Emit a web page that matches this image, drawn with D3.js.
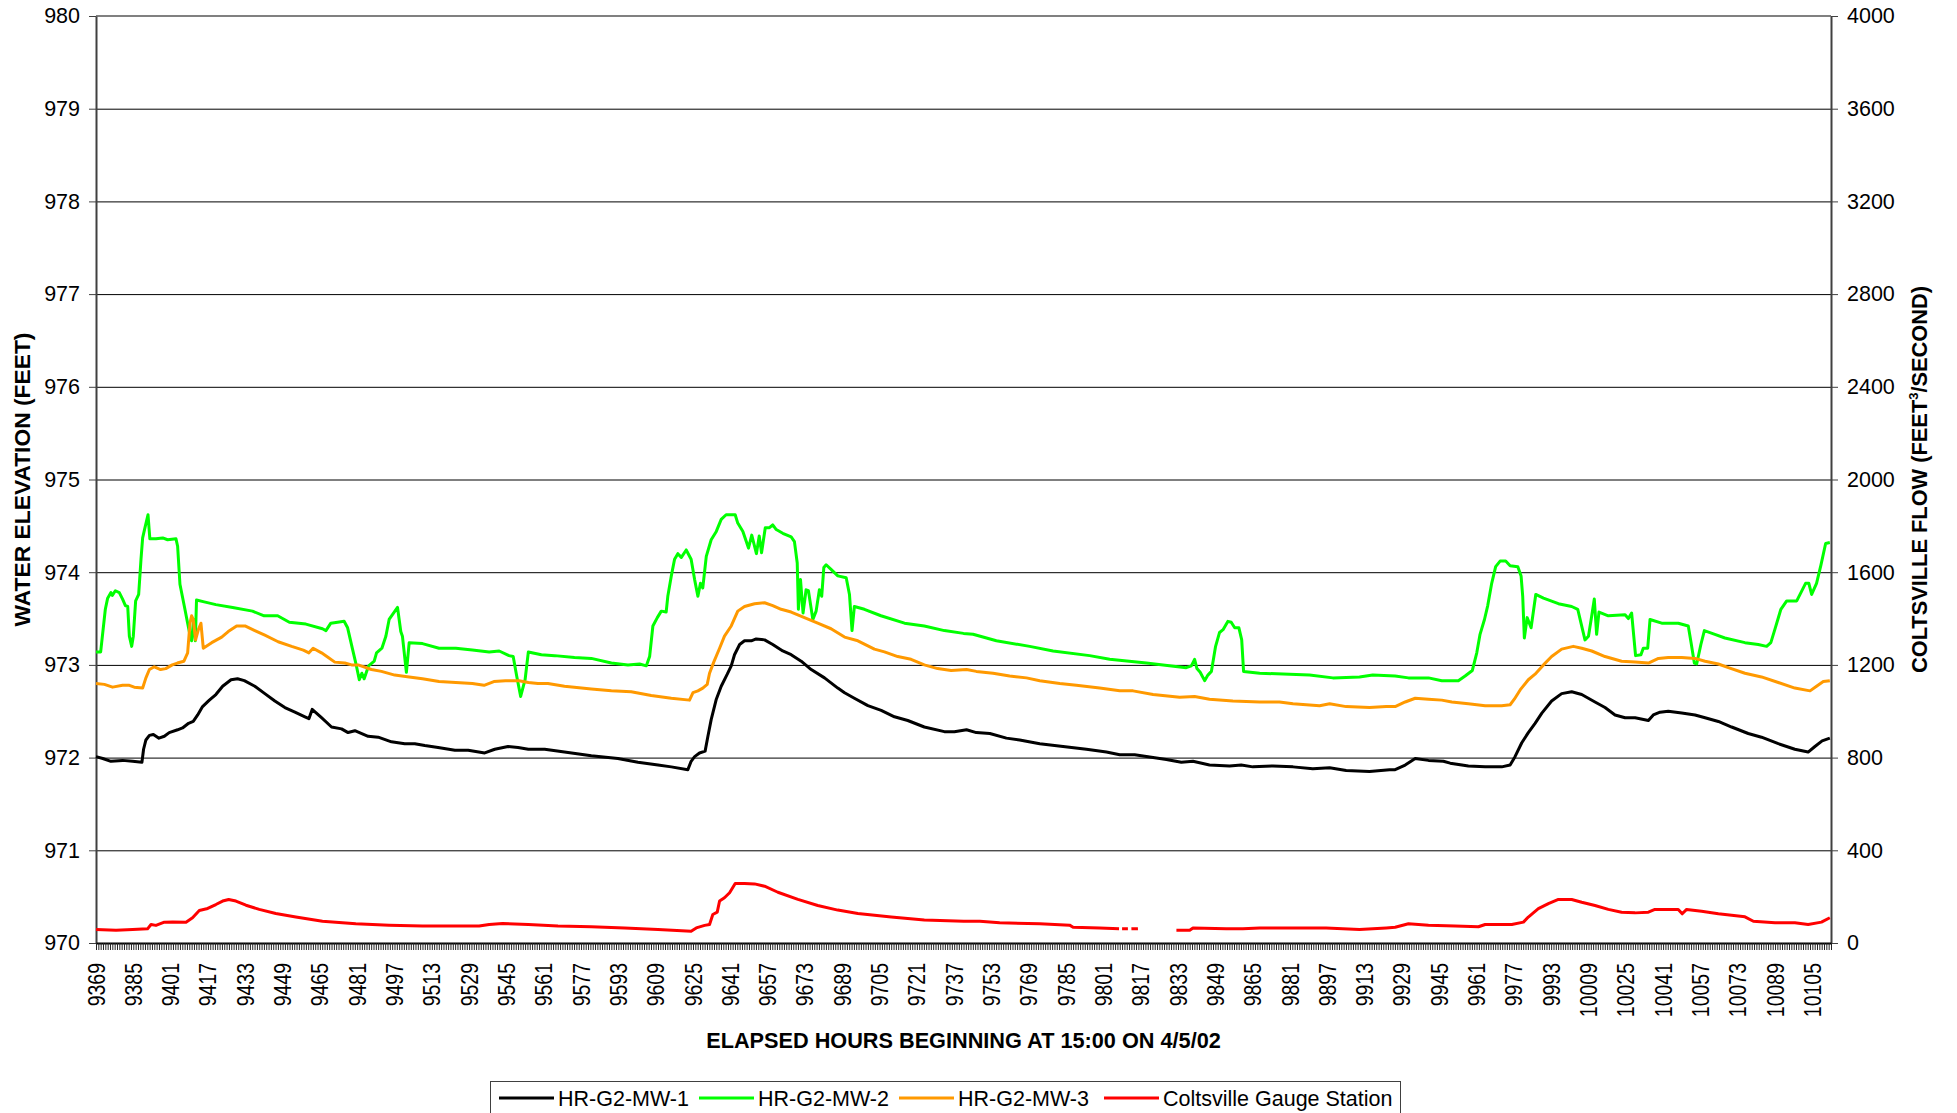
<!DOCTYPE html>
<html>
<head>
<meta charset="utf-8">
<script src="https://cdn.jsdelivr.net/npm/d3@7"></script>
<style>
  body { margin: 0; background: #fff; }
  svg { display: block; font-family: Arial, "Liberation Sans", sans-serif; }
</style>
</head>
<body>
<svg id="chart" width="1957" height="1113"></svg>
<script>
// Readings taken off the chart: [elapsed hour, value]
const mw1 = [[9369,972.01],[9371.9,971.99],[9375.4,971.96],[9380.4,971.97],[9384.7,971.96],[9388.7,971.95],[9389.4,972.09],[9390.4,972.19],[9391.9,972.24],[9393.6,972.25],[9396,972.21],[9398.3,972.23],[9400.4,972.27],[9404,972.30],[9406.1,972.32],[9408.7,972.37],[9410.7,972.39],[9412.6,972.46],[9414.7,972.55],[9417.6,972.62],[9420.4,972.68],[9423.3,972.77],[9426.9,972.84],[9429.7,972.85],[9432.6,972.83],[9437.1,972.77],[9441.4,972.69],[9445.7,972.61],[9450,972.54],[9454.3,972.49],[9458.6,972.44],[9460.3,972.42],[9461.7,972.52],[9465.7,972.43],[9470,972.33],[9474.3,972.31],[9477.1,972.27],[9480,972.29],[9485.7,972.23],[9490,972.22],[9495.7,972.17],[9501.4,972.15],[9505.7,972.15],[9510,972.13],[9515.7,972.11],[9522.9,972.08],[9528.6,972.08],[9535.7,972.05],[9540,972.09],[9545.7,972.12],[9550,972.11],[9554.4,972.09],
  [9561.4,972.09],[9569.9,972.06],[9581.4,972.02],[9592.8,971.99],[9601.4,971.95],[9610,971.92],[9615.7,971.90],[9622.8,971.87],[9624.2,971.96],[9625.7,972.01],[9627.8,972.05],[9630.2,972.07],[9631.4,972.23],[9632.8,972.41],[9635,972.63],[9637.1,972.77],[9639.7,972.90],[9641.4,972.99],[9642.8,973.11],[9645,973.22],[9647.1,973.26],[9650,973.26],[9652.1,973.28],[9655.7,973.27],[9659.2,973.22],[9663.5,973.15],[9667.1,973.11],[9671.4,973.04],[9675.7,972.95],[9681.4,972.86],[9687.1,972.75],[9690,972.70],[9694.2,972.64],[9700,972.56],[9705.7,972.51],[9711.4,972.44],[9717.1,972.40],[9724.2,972.33],[9732.8,972.28],[9737.1,972.28],
  [9742.3,972.30],[9746.5,972.27],[9752.3,972.26],[9759.4,972.21],[9765.1,972.19],[9773.7,972.15],[9783.7,972.12],[9793.7,972.09],[9802.3,972.06],[9808,972.03],[9814.4,972.03],[9822.3,972.00],[9828,971.98],[9834.4,971.95],[9839.4,971.96],[9846.5,971.92],[9855.1,971.91],[9860.1,971.92],[9865.1,971.90],[9873.7,971.91],[9882.3,971.90],[9890.8,971.88],[9898,971.89],[9905.1,971.86],[9915.1,971.85],[9923.7,971.87],
  [9926.1,971.87],[9930.4,971.92],[9934.7,971.99],[9940.4,971.97],[9946.8,971.96],[9949.7,971.94],[9957.5,971.91],[9964.7,971.90],[9971.8,971.90],[9975.4,971.92],[9977.5,972.01],[9980.4,972.16],[9983.2,972.27],[9986.1,972.37],[9989,972.48],[9993.2,972.61],[9997.5,972.69],[10001.8,972.71],[10006.1,972.68],[10011.8,972.60],[10016.1,972.54],[10020.4,972.46],[10024.7,972.43],[10029,972.43],[10034.7,972.40],[10036.8,972.46],[10039.7,972.49],[10043.2,972.50],[10049,972.48],[10054.7,972.46],[10059,972.43],[10064.7,972.39],[10070.4,972.33],[10077.5,972.26],[10083.2,972.22],[10090.4,972.15],[10097.5,972.09],[10103.2,972.06],[10106.1,972.12],[10109.2,972.18],[10112.5,972.21]];

const mw2 = [[9369,973.14],[9371,973.14],[9373,973.60],[9374,973.72],[9375.4,973.78],[9376,973.75],[9377.3,973.80],[9379,973.78],[9380.4,973.71],[9381.6,973.64],[9382.6,973.63],[9383.3,973.31],[9384.3,973.20],[9385,973.31],[9386,973.69],[9387.3,973.76],[9388.3,974.14],[9389,974.37],[9390,974.48],[9391.3,974.62],[9392.1,974.36],[9394.7,974.36],[9397.6,974.37],[9399.7,974.35],[9403.3,974.36],[9404,974.28],[9405,973.87],[9406.9,973.63],[9408.3,973.45],[9409.4,973.31],[9410,973.26],[9410.9,973.49],[9411.6,973.26],[9412.1,973.70],[9415.4,973.68],[9420.4,973.65],[9427.6,973.62],[9436.1,973.58],[9441.1,973.53],[9446.9,973.53],[9451.9,973.46],[9459,973.44],[9466.1,973.39],[9467.6,973.37],[9469.7,973.45],[9472.6,973.46],[9475.4,973.47],[9476.9,973.40],[9479,973.17],[9480.4,973.02],[9481.9,972.84],[9483,972.91],[9484,972.85],[9485.9,972.99],[9488.3,973.04],[9489.3,973.13],[9491.6,973.18],[9493.3,973.31],[9494.7,973.49],[9498.3,973.62],[9499.7,973.36],[9500.4,973.31],[9502.1,972.92],[9503.3,973.24],[9509,973.23],[9516.1,973.18],[9523.3,973.18],[9530.4,973.16],[9537.6,973.14],[9541.9,973.15],[9546.1,973.10],[9547.9,973.09],[9549.4,972.88],[9551.1,972.66],[9553,972.84],[9554.4,973.14],
  [9560,973.11],[9565.7,973.10],[9574.2,973.08],[9581.4,973.07],[9590,973.02],[9597.1,973.00],[9602.1,973.01],[9605,972.99],[9606.4,973.09],[9607.8,973.42],[9609.7,973.51],[9611.4,973.58],[9613.5,973.57],[9614.2,973.74],[9615.7,973.96],[9617.1,974.14],[9618.5,974.20],[9620,974.16],[9622.1,974.24],[9624.2,974.14],[9625.7,973.92],[9627.1,973.74],[9628.2,973.88],[9629.2,973.83],[9630.7,974.17],[9632.8,974.35],[9635,974.44],[9637.1,974.57],[9639.2,974.62],[9643.1,974.62],[9644.2,974.53],[9646.4,974.44],[9648.8,974.26],[9650.2,974.40],[9652.2,974.20],[9653.4,974.39],[9654.4,974.21],[9656,974.48],[9657.8,974.48],[9659.2,974.51],[9660.7,974.46],[9663.5,974.42],[9667.1,974.38],[9668.5,974.33],[9669.7,974.10],[9670.2,973.60],[9671.1,973.92],[9672.2,973.56],[9673.5,973.81],[9674.5,973.80],[9676.4,973.49],[9677.8,973.58],[9679.2,973.81],[9680.2,973.74],[9681.1,974.05],[9682.1,974.08],[9684.2,974.03],[9687.1,973.96],[9690.7,973.94],[9692.1,973.76],[9693.2,973.37],[9694.2,973.63],[9698.5,973.60],[9705.6,973.53],[9715.7,973.45],[9724.2,973.42],[9732.8,973.37],
  [9741,973.34],[9745.1,973.33],[9755.1,973.26],[9769.4,973.20],[9779.4,973.15],[9795.1,973.10],[9803.7,973.06],[9819.4,973.02],[9836.5,972.97],[9838.7,972.99],[9840.1,973.06],[9841.1,972.96],[9842.5,972.92],[9844.4,972.83],[9845.8,972.89],[9847.3,972.93],[9849.1,973.20],[9850.8,973.35],[9852.3,973.38],[9854.4,973.47],[9855.8,973.46],[9857.3,973.40],[9859.1,973.40],[9860.3,973.27],[9861.1,972.93],[9868,972.91],[9880.8,972.90],[9889.4,972.89],[9899.4,972.86],[9910.8,972.87],[9916.5,972.89],
  [9926.1,972.88],[9931.8,972.86],[9940.4,972.86],[9946.1,972.83],[9953.2,972.83],[9956.1,972.88],[9959.2,972.94],[9961.1,973.13],[9962.5,973.33],[9964.4,973.49],[9965.8,973.64],[9967.5,973.88],[9969.2,974.06],[9971.1,974.12],[9973.5,974.12],[9975.4,974.07],[9978.7,974.06],[9980.1,973.96],[9980.8,973.74],[9981.5,973.29],[9982.7,973.51],[9984.4,973.40],[9986.4,973.76],[9989.7,973.72],[9996.1,973.66],[10001.8,973.63],[10004.4,973.60],[10005.8,973.45],[10007.5,973.27],[10009,973.31],[10010.4,973.53],[10011.5,973.71],[10012.5,973.33],[10013.5,973.57],[10017.5,973.53],[10024.7,973.54],[10026.1,973.50],[10027.5,973.56],[10029.2,973.10],[10031.5,973.11],[10032.5,973.18],[10034.4,973.18],[10035.4,973.49],[10040.4,973.45],[10047.5,973.45],[10051.8,973.42],[10053,973.24],[10054.4,973.02],[10055.4,973.01],[10057.2,973.22],[10058.7,973.37],[10063.2,973.33],[10067.5,973.29],[10076.1,973.24],[10081.8,973.22],[10085.4,973.20],[10087.2,973.24],[10088.9,973.38],[10091.5,973.60],[10094,973.69],[10098.3,973.69],[10100.1,973.78],[10102.1,973.88],[10103.5,973.88],[10104.7,973.76],[10106.8,973.88],[10108.7,974.08],[10110.7,974.31],[10112.5,974.32]];

const mw3 = [[9369,972.80],[9372.6,972.79],[9376.1,972.76],[9380.4,972.78],[9383.3,972.78],[9385.4,972.76],[9389,972.75],[9390.4,972.86],[9391.9,972.95],[9394,972.98],[9396.7,972.95],[9398.9,972.96],[9401.7,973.00],[9403.9,973.02],[9406.7,973.04],[9408.3,973.13],[9409.3,973.45],[9410,973.53],[9410.7,973.49],[9411.7,973.27],[9412.9,973.38],[9414,973.45],[9415,973.18],[9418.6,973.24],[9422.9,973.30],[9425.7,973.36],[9429.3,973.42],[9432.9,973.42],[9437.1,973.37],[9441.4,973.32],[9447.1,973.25],[9452.9,973.20],[9457.9,973.16],[9460.3,973.13],[9462.1,973.18],[9465.7,973.13],[9468.6,973.08],[9471.4,973.03],[9475.7,973.02],[9478.6,973.00],[9481.4,973.00],[9487.1,972.95],[9491.4,972.93],[9497.1,972.89],[9503.3,972.87],[9509,972.85],[9516.1,972.82],[9523.3,972.81],[9530.4,972.80],[9535.4,972.78],[9539.6,972.82],[9544.6,972.83],[9550.4,972.83],[9554.4,972.81],
  [9558.5,972.80],[9562.8,972.80],[9569.9,972.77],[9581.4,972.74],[9590,972.72],[9598.5,972.71],[9607.1,972.67],[9615.7,972.64],[9623.5,972.62],[9625,972.70],[9627.1,972.72],[9629.2,972.75],[9631.1,972.79],[9632.1,972.91],[9633.9,973.03],[9636.4,973.18],[9638.5,973.31],[9641.4,973.42],[9644.2,973.58],[9647.1,973.63],[9651.4,973.66],[9655.7,973.67],[9659.2,973.64],[9662.8,973.60],[9667.1,973.57],[9672.8,973.51],[9678.5,973.45],[9684.2,973.39],[9690,973.30],[9695.7,973.26],[9702.8,973.17],[9707.1,973.14],[9712.8,973.09],[9718.5,973.06],[9724.2,973.00],[9729.9,972.96],[9735.7,972.94],
  [9742.3,972.95],[9746.5,972.93],[9753.7,972.91],[9760.8,972.88],[9768,972.86],[9773.7,972.83],[9782.3,972.80],[9789.4,972.78],[9799.4,972.75],[9808,972.72],[9813.7,972.72],[9822.3,972.68],[9833.7,972.65],[9840.1,972.66],[9846.5,972.63],[9856.5,972.61],[9868,972.60],[9876.5,972.60],[9882.3,972.58],[9893.7,972.56],[9898,972.58],[9905.1,972.55],[9915.1,972.54],[9922.3,972.55],
  [9926.1,972.55],[9930.4,972.60],[9934.7,972.64],[9940.4,972.63],[9946.1,972.62],[9950.4,972.60],[9957.5,972.58],[9964.7,972.56],[9971.8,972.56],[9975.4,972.57],[9977.2,972.63],[9979.7,972.73],[9983.2,972.84],[9986.1,972.90],[9989.7,973.00],[9993.2,973.09],[9997.5,973.17],[10002.5,973.20],[10006.1,973.18],[10010.4,973.15],[10016.1,973.09],[10023.2,973.04],[10029,973.03],[10034.7,973.02],[10039,973.07],[10043.2,973.08],[10049,973.08],[10054.7,973.07],[10059,973.04],[10064.7,973.01],[10069,972.97],[10076.1,972.91],[10083.2,972.87],[10090.4,972.81],[10097.5,972.75],[10104,972.72],[10106.8,972.77],[10109.7,972.82],[10112.5,972.83]];

// Coltsville gauge flow (ft3/s), null = no reading
const flow = [[9369,58],[9377.6,55],[9384.7,58],[9391.1,61],[9392.6,80],[9394.7,76],[9398.3,90],[9401.9,91],[9407.6,90],[9410.4,109],[9413.3,140],[9416.9,149],[9420.4,166],[9423.3,181],[9425.9,188],[9429,181],[9433.3,163],[9439,145],[9446.1,127],[9454.7,112],[9466.1,94],[9480.4,83],[9494.7,77],[9509,73],[9523.3,73],[9533.3,73],[9537.6,80],[9543.3,84],[9554.4,80],[9567.1,73],[9581.4,70],[9595.7,65],[9610,58],[9624.2,51],[9626.4,65],[9630,76],[9632.1,80],[9633.5,123],[9635.4,133],[9636.4,181],[9638.5,195],[9640.7,217],[9643.1,257],[9647.1,257],[9651.4,255],[9655.7,245],[9661.4,219],[9670,188],[9678.5,162],[9687.1,142],[9695.7,127],[9710,112],[9724.2,99],[9741.1,94],[9748,94],[9756.5,87],[9773.7,83],[9786.5,77],[9788,68],[9799.4,65],[9807.7,61],[9808.3,null],[9809,61],[9811.5,61],[9812.2,null],[9813,61],[9815.8,62],[9816.5,null],[9832.3,55],[9838,55],[9839.4,65],[9853.7,61],[9860.8,61],[9868,65],[9882.3,65],[9896.5,65],[9910.8,58],[9922.3,65],[9926.1,68],[9931.8,83],[9940.4,77],[9951.8,73],[9961.8,70],[9964.7,80],[9976.1,80],[9981.1,90],[9983.2,112],[9987.5,148],[9991.8,170],[9996.1,188],[10001.8,188],[10006.1,176],[10011.8,162],[10017.5,145],[10023.2,133],[10029,130],[10034.7,133],[10037.5,145],[10047.5,145],[10049.2,126],[10051.1,145],[10057.5,137],[10064.7,126],[10076.1,113],[10079.7,94],[10089,87],[10097.5,87],[10103.2,80],[10108.9,90],[10112.5,109]];

const elevTicks = d3.range(970, 981, 1);
const flowTicks = d3.range(0, 4001, 400);
const hourLabels = d3.range(9369, 10106, 16);
const hourTicks = d3.range(9369, 10114, 1);
const legendNames = ["HR-G2-MW-1", "HR-G2-MW-2", "HR-G2-MW-3", "Coltsville Gauge Station"];
const legendColors = ["#000000", "#00ff00", "#ff9900", "#ff0000"];

const plotLeft = 96, plotRight = 1831, plotTop = 16, plotBottom = 943;
const fontFamily = "Arial, 'Liberation Sans', sans-serif";
const svg = d3.select("#chart");

const x = d3.scaleLinear().domain([9369, 10113]).range([plotLeft, plotRight]);
const y = d3.scaleLinear().domain([970, 980]).range([plotBottom, plotTop]);
const yR = d3.scaleLinear().domain([0, 4000]).range([plotBottom, plotTop]);

svg.append("rect").attr("width", 1957).attr("height", 1113).attr("fill", "#fff");

// gridlines
svg.append("g")
  .attr("transform", `translate(${plotLeft},0)`)
  .call(d3.axisLeft(y).tickValues(elevTicks.slice(1, -1)).tickSize(-(plotRight - plotLeft)).tickFormat(""))
  .call(g => g.select(".domain").remove())
  .call(g => g.selectAll("line").attr("stroke", "#000").attr("stroke-width", 1));

// top border
svg.append("line").attr("x1", plotLeft).attr("x2", plotRight).attr("y1", plotTop).attr("y2", plotTop)
  .attr("stroke", "#808080").attr("stroke-width", 2);

// left axis
svg.append("g")
  .attr("transform", `translate(${plotLeft},0)`)
  .call(d3.axisLeft(y).tickValues(elevTicks).tickSize(7).tickPadding(9).tickSizeOuter(0))
  .call(g => g.select(".domain").attr("stroke", "#404040").attr("stroke-width", 2))
  .call(g => g.selectAll("line").attr("stroke", "#404040"))
  .call(g => g.selectAll("text").attr("font-size", 21.5).attr("fill", "#000").attr("font-family", fontFamily));

// right axis
svg.append("g")
  .attr("transform", `translate(${plotRight},0)`)
  .call(d3.axisRight(yR).tickValues(flowTicks).tickSize(7).tickPadding(9).tickSizeOuter(0).tickFormat(d3.format("d")))
  .call(g => g.select(".domain").attr("stroke", "#404040").attr("stroke-width", 2))
  .call(g => g.selectAll("line").attr("stroke", "#404040"))
  .call(g => g.selectAll("text").attr("font-size", 21.5).attr("fill", "#000").attr("font-family", fontFamily));

// series
const line = d3.line()
  .defined(d => d[1] != null)
  .x(d => x(d[0]));

const seriesList = [
  { data: mw1, scale: y, color: legendColors[0] },
  { data: mw2, scale: y, color: legendColors[1] },
  { data: mw3, scale: y, color: legendColors[2] },
  { data: flow, scale: yR, color: legendColors[3] }
];
seriesList.forEach(s => {
  svg.append("path")
    .datum(s.data)
    .attr("fill", "none")
    .attr("stroke", s.color)
    .attr("stroke-width", 3)
    .attr("stroke-linejoin", "round")
    .attr("d", line.y(d => s.scale(d[1])));
});

// bottom axis: hourly minor ticks
svg.append("g")
  .attr("transform", `translate(0,${plotBottom})`)
  .call(d3.axisBottom(x).tickValues(hourTicks).tickSize(7).tickFormat("").tickSizeOuter(0))
  .call(g => g.select(".domain").attr("stroke", "#000").attr("stroke-width", 2))
  .call(g => g.selectAll("line").attr("stroke", "#222").attr("stroke-width", 1));

// bottom labels, rotated (glyphs slightly stretched like the original)
svg.append("g")
  .attr("transform", `translate(0,${plotBottom})`)
  .call(d3.axisBottom(x).tickValues(hourLabels).tickSize(0).tickFormat(d3.format("d")))
  .call(g => g.select(".domain").remove())
  .call(g => g.selectAll("text")
    .attr("font-size", 19.5)
    .attr("fill", "#000")
    .attr("font-family", fontFamily)
    .attr("transform", "rotate(-90) scale(1,1.18)")
    .attr("x", -20)
    .attr("y", 0)
    .attr("dy", "0.35em")
    .attr("text-anchor", "end"));

// axis titles
svg.append("text")
  .attr("x", (plotLeft + plotRight) / 2).attr("y", 1048)
  .attr("text-anchor", "middle").attr("font-weight", "bold").attr("font-size", 21.7)
  .text("ELAPSED HOURS BEGINNING AT 15:00 ON 4/5/02");

svg.append("text")
  .attr("transform", `translate(30,${(plotTop + plotBottom) / 2}) rotate(-90)`)
  .attr("text-anchor", "middle").attr("font-weight", "bold").attr("font-size", 22.8)
  .text("WATER ELEVATION (FEET)");

const rt = svg.append("text")
  .attr("transform", `translate(1927,${(plotTop + plotBottom) / 2}) rotate(-90)`)
  .attr("text-anchor", "middle").attr("font-weight", "bold").attr("font-size", 21.8);
rt.append("tspan").text("COLTSVILLE FLOW (FEET");
rt.append("tspan").attr("font-size", 13).attr("dy", -9).text("3");
rt.append("tspan").attr("dy", 9).text("/SECOND)");

// legend
svg.append("rect")
  .attr("x", 490.5).attr("y", 1081.5).attr("width", 910).attr("height", 40)
  .attr("fill", "#fff").attr("stroke", "#404040").attr("stroke-width", 1);

const legendX = [499, 699, 899, 1104];
const leg = svg.append("g").selectAll("g")
  .data(legendNames)
  .join("g")
  .attr("transform", (d, i) => `translate(${legendX[i]},1098)`);
leg.append("line")
  .attr("x1", 0).attr("x2", 55)
  .attr("stroke", (d, i) => legendColors[i]).attr("stroke-width", 3);
leg.append("text")
  .attr("x", 59).attr("dy", "0.35em")
  .attr("font-size", 21.5)
  .attr("font-family", fontFamily)
  .text(d => d);
</script>
</body>
</html>
